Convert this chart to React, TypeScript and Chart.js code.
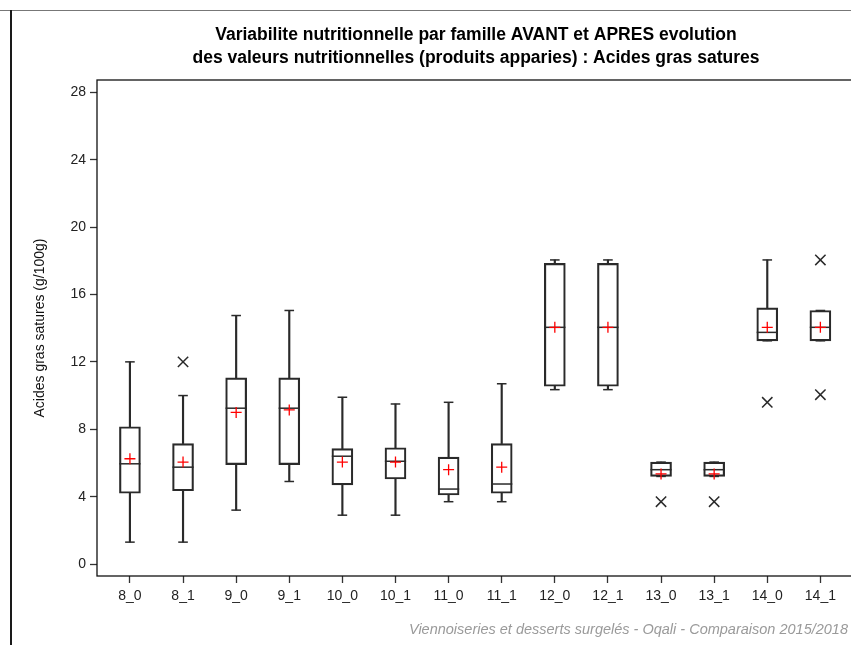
import React, { useEffect, useRef } from 'react';
import { Chart, registerables } from 'chart.js';

Chart.register(...registerables);

const categories = ['8_0', '8_1', '9_0', '9_1', '10_0', '10_1', '11_0', '11_1', '12_0', '12_1', '13_0', '13_1', '14_0', '14_1'];
const whiskerMin = [1.3, 1.3, 3.2, 4.9, 2.9, 2.9, 3.7, 3.7, 10.35, 10.35, 5.2, 5.2, 13.25, 13.25];
const q1 = [4.2, 4.35, 5.9, 5.9, 4.7, 5.05, 4.1, 4.2, 10.55, 10.55, 5.2, 5.2, 13.25, 13.25];
const medians = [5.95, 5.75, 9.25, 9.25, 6.4, 6.1, 4.45, 4.75, 14.05, 14.05, 5.6, 5.6, 13.75, 14.05];
const q3 = [8.15, 7.15, 11.05, 11.05, 6.85, 6.9, 6.35, 7.15, 17.85, 17.85, 6.05, 6.05, 15.2, 15.05];
const whiskerMax = [12, 10, 14.75, 15.05, 9.9, 9.5, 9.6, 10.7, 18.05, 18.05, 6.05, 6.05, 18.05, 15.05];
const means = [6.25, 6.05, 9.0, 9.15, 6.05, 6.05, 5.6, 5.75, 14.05, 14.05, 5.35, 5.35, 14.05, 14.05];
const outliersHigh: (number | null)[] = [null, 12, null, null, null, null, null, null, null, null, null, null, null, 18.05];
const outliersLow: (number | null)[] = [null, null, null, null, null, null, null, null, null, null, 3.7, 3.7, 9.6, 10.05];
const yTicks = [0, 4, 8, 12, 16, 20, 24, 28];

const titleLines = [
  'Variabilite nutritionnelle par famille AVANT et APRES evolution',
  'des valeurs nutritionnelles (produits apparies) : Acides gras satures',
];
const yTitle = 'Acides gras satures (g/100g)';
const footer = 'Viennoiseries et desserts surgelés - Oqali - Comparaison 2015/2018';

const FONT = '"Liberation Sans", Arial, sans-serif';
const LINE = '#2a2a2a';

const pts = (arr: (number | null)[]) => arr.map((v, i) => ({ x: i, y: v }));
const rng = (a: number[], b: number[]) => a.map((v, i) => ({ x: i, y: [v, b[i]] }));

const framePlugin = {
  id: 'frame',
  beforeDatasetsDraw(chart: any) {
    const { ctx, chartArea } = chart;
    ctx.save();
    ctx.strokeStyle = '#111';
    ctx.lineWidth = 1.3;
    ctx.strokeRect(chartArea.left, chartArea.top, chartArea.right - chartArea.left, chartArea.bottom - chartArea.top);
    ctx.restore();
  },
};

export default function App() {
  const ref = useRef<HTMLCanvasElement | null>(null);

  useEffect(() => {
    if (!ref.current) return;
    const chart = new Chart(ref.current, {
      type: 'bar',
      data: {
        datasets: [
          {
            type: 'line',
            data: pts(means),
            showLine: false,
            pointStyle: 'cross',
            pointRadius: 5.5,
            pointBorderColor: '#ff0000',
            pointBorderWidth: 1.3,
            order: 0,
          } as any,
          {
            type: 'line',
            data: pts(outliersHigh),
            showLine: false,
            pointStyle: 'crossRot',
            pointRadius: 7.3,
            pointBorderColor: LINE,
            pointBorderWidth: 1.5,
            order: 1,
          } as any,
          {
            type: 'line',
            data: pts(outliersLow),
            showLine: false,
            pointStyle: 'crossRot',
            pointRadius: 7.3,
            pointBorderColor: LINE,
            pointBorderWidth: 1.5,
            order: 1,
          } as any,
          {
            type: 'line',
            data: pts(medians),
            showLine: false,
            pointStyle: 'line',
            pointRadius: 10.6,
            pointBorderColor: LINE,
            pointBorderWidth: 1.5,
            order: 2,
          } as any,
          {
            type: 'line',
            data: pts(whiskerMax),
            showLine: false,
            pointStyle: 'line',
            pointRadius: 4.8,
            pointBorderColor: LINE,
            pointBorderWidth: 1.5,
            order: 3,
          } as any,
          {
            type: 'line',
            data: pts(whiskerMin),
            showLine: false,
            pointStyle: 'line',
            pointRadius: 4.8,
            pointBorderColor: LINE,
            pointBorderWidth: 1.5,
            order: 3,
          } as any,
          {
            type: 'bar',
            data: rng(q1, q3),
            backgroundColor: 'rgba(255,255,255,0)',
            borderColor: LINE,
            borderWidth: 1.5,
            borderSkipped: false,
            barThickness: 21,
            grouped: false,
            order: 4,
          } as any,
          {
            type: 'bar',
            data: rng(q3, whiskerMax),
            backgroundColor: LINE,
            borderWidth: 0,
            barThickness: 1.5,
            grouped: false,
            order: 5,
          } as any,
          {
            type: 'bar',
            data: rng(whiskerMin, q1),
            backgroundColor: LINE,
            borderWidth: 0,
            barThickness: 1.5,
            grouped: false,
            order: 5,
          } as any,
        ],
      },
      options: {
        responsive: false,
        animation: false,
        devicePixelRatio: 1,
        layout: { padding: { left: 0, right: 5, top: 0, bottom: 0 } },
        plugins: {
          legend: { display: false },
          tooltip: { enabled: false },
          title: {
            display: true,
            text: titleLines,
            fullSize: false,
            color: '#000',
            font: { family: FONT, size: 17.5, weight: 'bold', lineHeight: '23px' },
            padding: { top: 24, bottom: 10 },
          },
        },
        scales: {
          x: {
            type: 'linear',
            offset: false,
            min: -0.62,
            max: 13.65,
            afterBuildTicks: (scale: any) => {
              scale.ticks = categories.map((_, i) => ({ value: i }));
            },
            afterFit: (scale: any) => {
              scale.height = 69;
              scale.paddingLeft = 0;
              scale.paddingRight = 0;
            },
            ticks: {
              autoSkip: false,
              maxRotation: 0,
              padding: 5,
              color: '#222',
              font: { family: FONT, size: 14 },
              callback: (v: any) => categories[v as number] ?? '',
            },
            grid: { offset: false, drawOnChartArea: false, drawTicks: true, tickLength: 7, tickColor: '#333', tickWidth: 1.3 },
            border: { display: false },
          },
          y: {
            type: 'linear',
            min: -0.71,
            max: 28.73,
            afterBuildTicks: (scale: any) => {
              scale.ticks = yTicks.map((v) => ({ value: v }));
            },
            afterFit: (scale: any) => {
              scale.width = 97;
            },
            ticks: {
              padding: 4,
              color: '#222',
              font: { family: FONT, size: 14 },
            },
            grid: { drawOnChartArea: false, drawTicks: true, tickLength: 7, tickColor: '#333', tickWidth: 1.3 },
            border: { display: false },
            title: {
              display: true,
              text: yTitle,
              color: '#111',
              font: { family: FONT, size: 14 },
              padding: { top: 32, bottom: 0 },
            },
          },
        },
      },
      plugins: [framePlugin],
    } as any);
    return () => chart.destroy();
  }, []);

  return (
    <div style={{ position: 'fixed', left: 0, top: 0, width: 851, height: 645, overflow: 'hidden', background: '#fff' }}>
      <canvas ref={ref} width={867} height={645} style={{ position: 'absolute', left: 0, top: 0, width: 867, height: 645 }} />
      <div style={{ position: 'absolute', left: 0, top: 10, width: 851, height: 1, background: '#777' }} />
      <div style={{ position: 'absolute', left: 10, top: 10, width: 2, height: 635, background: '#1a1a1a' }} />
      <div
        style={{
          position: 'absolute',
          right: 3,
          top: 621,
          fontFamily: FONT,
          fontStyle: 'italic',
          fontSize: 14.5,
          color: '#9a9a9a',
          whiteSpace: 'nowrap',
          lineHeight: '17px',
        }}
      >
        {footer}
      </div>
    </div>
  );
}
